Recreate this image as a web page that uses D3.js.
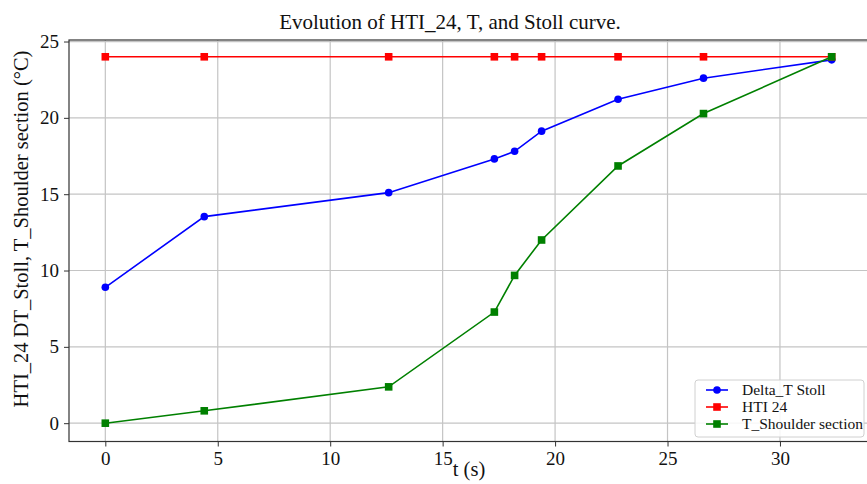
<!DOCTYPE html>
<html><head><meta charset="utf-8">
<script src="https://cdn.jsdelivr.net/npm/d3@7"></script>
<style>
body{margin:0;background:#fff;}
text{font-family:"Liberation Serif","Times New Roman",serif;}
</style></head>
<body><svg id="c" width="867" height="484"></svg>
<script>
const tValues = [0, 4.4, 12.6, 17.3, 18.2, 19.4, 22.8, 26.6, 32.3];
const deltaTStoll = [8.9, 13.53, 15.1, 17.31, 17.81, 19.13, 21.22, 22.6, 23.8];
const hti24 = [24, 24, 24, 24, 24, 24, 24, 24, 24];
const tShoulder = [0, 0.81, 2.38, 7.28, 9.68, 12.0, 16.85, 20.28, 24.0];
const xTicks = [0, 5, 10, 15, 20, 25, 30];
const yTicks = [0, 5, 10, 15, 20, 25];
const seriesNames = ["Delta_T Stoll", "HTI 24", "T_Shoulder section"];
const seriesColors = ["#0000ff", "#ff0000", "#008000"];
const seriesMarkers = ["circle", "square", "square"];

const svg = d3.select("#c");
const m = {left: 69, right: 868, top: 40, bottom: 441.5};
const x = d3.scaleLinear().domain([-1.615, 33.915]).range([m.left, m.right]);
const y = d3.scaleLinear().domain([-1.2, 25.1]).range([m.bottom, m.top]);

// grid
svg.append("g").selectAll("line").data(xTicks).join("line")
  .attr("x1", d => x(d)).attr("x2", d => x(d)).attr("y1", m.top).attr("y2", m.bottom)
  .attr("stroke", "#c4c4c4").attr("stroke-width", 1.2);
svg.append("g").selectAll("line").data(yTicks).join("line")
  .attr("y1", d => y(d)).attr("y2", d => y(d)).attr("x1", m.left).attr("x2", m.right)
  .attr("stroke", "#c4c4c4").attr("stroke-width", 1.2);

// axes
const xAxis = svg.append("g").attr("transform", `translate(0,${m.bottom})`)
  .call(d3.axisBottom(x).tickValues(xTicks).tickSize(5).tickPadding(5).tickFormat(d3.format("d")));
const yAxis = svg.append("g").attr("transform", `translate(${m.left},0)`)
  .call(d3.axisLeft(y).tickValues(yTicks).tickSize(5).tickPadding(5).tickFormat(d3.format("d")));
[xAxis, yAxis].forEach(a => {
  a.select(".domain").remove();
  a.selectAll("line").attr("stroke", "#333");
  a.selectAll("text").attr("font-size", 19).attr("fill", "#111")
    .style("font-family", '"Liberation Serif",serif');
});
// spines
svg.append("rect").attr("x", m.left).attr("y", m.top)
  .attr("width", m.right - m.left).attr("height", m.bottom - m.top)
  .attr("fill", "none").attr("stroke", "#333").attr("stroke-width", 1.2);

const allSeries = [deltaTStoll, hti24, tShoulder];
const line = d3.line().x(d => x(d[0])).y(d => y(d[1]));
function drawMarker(g, kind, cx, cy, color) {
  if (kind === "circle") {
    g.append("circle").attr("cx", cx).attr("cy", cy).attr("r", 3.8).attr("fill", color);
  } else {
    g.append("rect").attr("x", cx - 3.8).attr("y", cy - 3.8).attr("width", 7.6).attr("height", 7.6).attr("fill", color);
  }
}
allSeries.forEach((vals, i) => {
  const pts = tValues.map((t, j) => [t, vals[j]]);
  const g = svg.append("g");
  g.append("path").attr("d", line(pts)).attr("fill", "none")
    .attr("stroke", seriesColors[i]).attr("stroke-width", 1.6);
  pts.forEach(p => drawMarker(g, seriesMarkers[i], x(p[0]), y(p[1]), seriesColors[i]));
});

// title and labels
svg.append("text").attr("x", 450).attr("y", 29).attr("text-anchor", "middle")
  .attr("font-size", 21).attr("fill", "#111").text("Evolution of HTI_24, T, and Stoll curve.");
svg.append("text").attr("x", 469).attr("y", 476).attr("text-anchor", "middle")
  .attr("font-size", 20.5).attr("fill", "#111").text("t (s)");
svg.append("text").attr("transform", "translate(28,229) rotate(-90)").attr("text-anchor", "middle")
  .attr("font-size", 20.5).attr("fill", "#111").text("HTI_24 DT_Stoll, T_Shoulder section (°C)");

// legend
const lg = svg.append("g");
lg.append("rect").attr("x", 695).attr("y", 380).attr("width", 169).attr("height", 57)
  .attr("rx", 3).attr("fill", "#fff").attr("fill-opacity", 0.85)
  .attr("stroke", "#d0d0d0").attr("stroke-width", 1);
seriesNames.forEach((n, i) => {
  const yy = 390 + i * 17;
  lg.append("line").attr("x1", 706).attr("x2", 728).attr("y1", yy).attr("y2", yy)
    .attr("stroke", seriesColors[i]).attr("stroke-width", 1.6);
  drawMarker(lg, seriesMarkers[i], 717, yy, seriesColors[i]);
  lg.append("text").attr("x", 742).attr("y", yy + 5).attr("font-size", 15.5)
    .attr("fill", "#111").text(n);
});
</script></body></html>
